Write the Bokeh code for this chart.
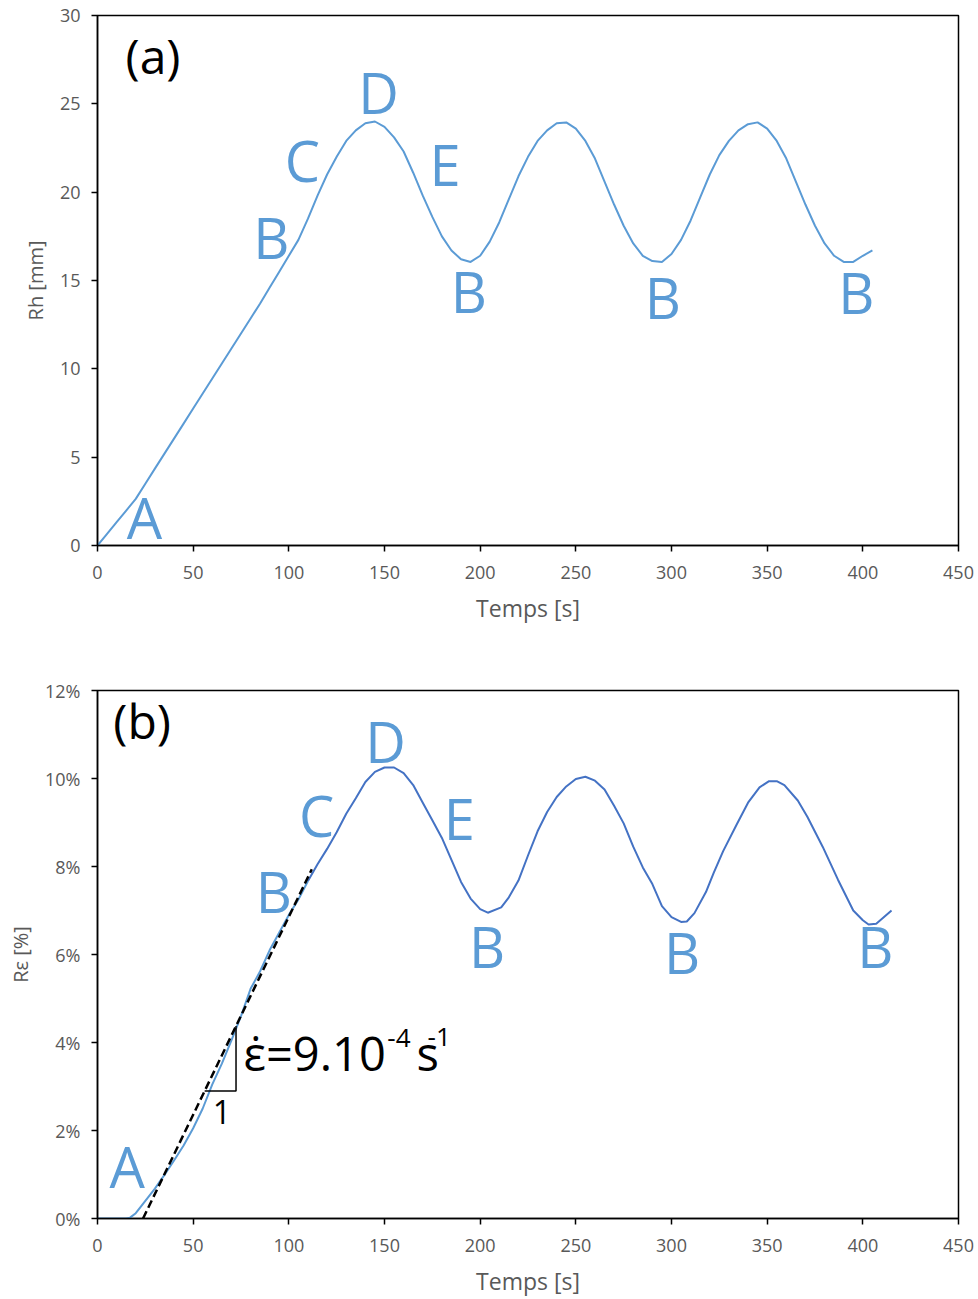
from bokeh.plotting import figure
from bokeh.layouts import column
from bokeh.models import Range1d, PrintfTickFormatter
from bokeh.core.properties import value
from bokeh.embed import file_html
from bokeh.resources import INLINE

# ---------------- data (a) ----------------
time_a = [0, 5, 10, 15, 20, 25, 30, 35, 40, 45, 50, 55, 60, 65, 70, 75, 80, 85, 90, 95,
          100, 105, 110, 115, 120, 125, 130, 135, 140, 145, 150, 155, 160, 165, 170, 175,
          180, 185, 190, 195, 200, 205, 210, 215, 220, 225, 230, 235, 240, 245, 250, 255,
          260, 265, 270, 275, 280, 285, 290, 295, 300, 305, 310, 315, 320, 325, 330, 335,
          340, 345, 350, 355, 360, 365, 370, 375, 380, 385, 390, 395, 400, 405]
rh_mm = [0.0, 0.66, 1.32, 1.98, 2.64, 3.5, 4.35, 5.2, 6.05, 6.9, 7.75, 8.6, 9.45, 10.3,
         11.15, 12.0, 12.85, 13.7, 14.6, 15.5, 16.4, 17.3, 18.5, 19.8, 21.0, 22.0, 22.9,
         23.5, 23.9, 24.0, 23.7, 23.1, 22.3, 21.1, 19.8, 18.6, 17.5, 16.7, 16.2, 16.05,
         16.4, 17.2, 18.3, 19.6, 20.9, 22.0, 22.9, 23.5, 23.9, 23.95, 23.6, 22.9, 21.9,
         20.6, 19.3, 18.1, 17.1, 16.4, 16.1, 16.05, 16.5, 17.3, 18.4, 19.7, 21.0, 22.1,
         22.9, 23.5, 23.85, 23.95, 23.6, 22.9, 21.9, 20.6, 19.3, 18.1, 17.1, 16.4, 16.05,
         16.05, 16.4, 16.7]

# ---------------- data (b) ----------------
time_b1 = [0, 5, 10, 15, 17, 20, 25, 30, 35, 40, 45, 50, 55, 60, 65, 70, 75, 80, 85, 90,
           95, 100, 105, 110]
reps_b1 = [0, 0, 0, 0, 0.02, 0.12, 0.40, 0.68, 0.99, 1.32, 1.66, 2.05, 2.50, 3.05, 3.52,
           4.05, 4.6, 5.22, 5.62, 6.1, 6.5, 6.9, 7.25, 7.67]
time_b2 = [110, 115, 120, 125, 130, 135, 140, 145, 150, 155, 160, 165, 170, 175, 180, 185,
           190, 195, 200, 204, 211, 215, 220, 225, 230, 235, 240, 245, 250, 255, 260, 265,
           270, 275, 280, 285, 290, 295, 300, 305, 308, 312, 318, 322, 327, 334, 340, 346,
           351, 355, 359, 366, 371, 379, 387, 395, 400, 403, 407, 415]
reps_b2 = [7.67, 8.05, 8.4, 8.78, 9.2, 9.55, 9.92, 10.15, 10.25, 10.25, 10.12, 9.85, 9.45,
           9.05, 8.65, 8.15, 7.65, 7.27, 7.03, 6.95, 7.07, 7.3, 7.68, 8.25, 8.8, 9.24, 9.58,
           9.82, 9.99, 10.04, 9.95, 9.75, 9.38, 8.98, 8.45, 7.98, 7.6, 7.1, 6.85, 6.74, 6.75,
           6.94, 7.42, 7.85, 8.35, 8.95, 9.45, 9.8, 9.94, 9.94, 9.85, 9.5, 9.13, 8.45, 7.7,
           7.0, 6.78, 6.68, 6.70, 7.0]

# strain-rate fit line: eps = rate*(t - t0), rate in %/s  (9.10^-4 s^-1)
fit_t0 = 23.8
fit_rate = 0.09
fit_t_end = 112.0
tri_t = [56.0, 72.4]

x_ticks = [0, 50, 100, 150, 200, 250, 300, 350, 400, 450]
y_ticks_a = [0, 5, 10, 15, 20, 25, 30]
y_ticks_b = [0, 2, 4, 6, 8, 10, 12]

# point labels (x, baseline y)
lab_a_txt = ["A", "B", "C", "D", "E", "B", "B", "B"]
lab_a_x = [24.6, 90.8, 107.1, 146.9, 181.6, 194.1, 295.5, 396.6]
lab_a_y = [0.38, 16.23, 20.57, 24.45, 20.38, 13.2, 12.83, 13.11]
lab_b_txt = ["A", "B", "C", "D", "E", "B", "B", "B"]
lab_b_x = [15.5, 92.1, 114.5, 150.5, 189.1, 203.6, 305.5, 406.6]
lab_b_y = [0.70, 6.94, 8.67, 10.37, 8.6, 5.69, 5.57, 5.69]

LIGHT = "#5B9BD5"
DARK = "#4472C4"
GRAY = "#595959"
FONT = "Open Sans"

PX_A = 530 / 30.0   # px per mm in panel (a)
PX_B = 529 / 12.0   # px per % in panel (b)


def lift(ys, fs, pxu):
    # raise text so that its alphabetic baseline lands on ys
    return [y + 0.388 * fs / pxu for y in ys]


def style(p, yticks):
    p.xaxis.ticker = x_ticks
    p.yaxis.ticker = yticks
    for ax in (p.xaxis, p.yaxis):
        ax.axis_line_color = "black"
        ax.axis_line_width = 1.5
        ax.major_tick_line_color = "black"
        ax.major_tick_line_width = 1.5
        ax.major_tick_out = 6
        ax.major_tick_in = 0
        ax.minor_tick_line_color = None
        ax.major_label_text_color = GRAY
        ax.major_label_text_font = FONT
        ax.major_label_text_font_size = "18px"
        ax.axis_label_text_color = GRAY
        ax.axis_label_text_font = FONT
        ax.axis_label_text_font_style = "normal"
    p.xaxis.axis_label_text_font_size = "23px"
    p.yaxis.axis_label_text_font_size = "20px"
    p.xaxis.major_label_standoff = 14
    p.yaxis.major_label_standoff = 11
    p.xaxis.axis_label_standoff = 10
    p.yaxis.axis_label_standoff = 8
    p.xgrid.grid_line_color = None
    p.ygrid.grid_line_color = None
    p.outline_line_color = "black"
    p.outline_line_width = 1.5
    p.background_fill_color = "white"
    p.border_fill_color = "white"


# ---------------- figure (a) ----------------
p1 = figure(width=978, height=640, x_range=Range1d(0, 450), y_range=Range1d(0, 30),
            output_backend="svg", toolbar_location=None,
            min_border_left=97, min_border_right=20, min_border_top=15, min_border_bottom=95,
            x_axis_label="Temps [s]", y_axis_label="Rh [mm]")
style(p1, y_ticks_a)
p1.line(time_a, rh_mm, line_color=LIGHT, line_width=2)
p1.text(x=lab_a_x, y=lift(lab_a_y, 56, PX_A), text=lab_a_txt, text_font=value(FONT),
        text_font_size="56px", text_color=LIGHT, text_align="center", text_baseline="alphabetic")
p1.text(x=[29.0], y=lift([26.7], 48, PX_A), text=["(a)"], text_font=value(FONT),
        text_font_size="48px", text_color="black", text_align="center", text_baseline="alphabetic")

# ---------------- figure (b) ----------------
p2 = figure(width=978, height=659, x_range=Range1d(0, 450), y_range=Range1d(0, 12),
            output_backend="svg", toolbar_location=None,
            min_border_left=97, min_border_right=20, min_border_top=50, min_border_bottom=80,
            x_axis_label="Temps [s]", y_axis_label="Rε [%]")
style(p2, y_ticks_b)
p2.yaxis.formatter = PrintfTickFormatter(format="%d%%")
p2.line(time_b1, reps_b1, line_color=LIGHT, line_width=2)
p2.line(time_b2, reps_b2, line_color=DARK, line_width=2)
fit_x = [fit_t0, fit_t_end]
fit_y = [fit_rate * (t - fit_t0) for t in fit_x]
p2.line(fit_x, fit_y, line_color="black", line_width=2.5, line_dash="8 4")
tri_y0 = fit_rate * (tri_t[0] - fit_t0)
tri_y1 = fit_rate * (tri_t[1] - fit_t0)
p2.line([tri_t[0], tri_t[1], tri_t[1]], [tri_y0, tri_y0, tri_y1], line_color="black", line_width=1.5)
p2.text(x=[(tri_t[0] + tri_t[1]) / 2 + 0.8], y=lift([tri_y0 - 0.75], 32, PX_B), text=["1"],
        text_font=value(FONT), text_font_size="32px", text_color="black",
        text_align="center", text_baseline="alphabetic")
p2.text(x=[76.3], y=lift([3.34], 47, PX_B), text=["\u03b5\u0307=9.10"], text_font=value(FONT),
        text_font_size="47px", text_color="black", text_align="left", text_baseline="alphabetic")
p2.text(x=[151.5], y=lift([3.88], 26, PX_B), text=["-4"], text_font=value(FONT),
        text_font_size="26px", text_color="black", text_align="left", text_baseline="alphabetic")
p2.text(x=[166.7], y=lift([3.34], 47, PX_B), text=["s"], text_font=value(FONT),
        text_font_size="47px", text_color="black", text_align="left", text_baseline="alphabetic")
p2.text(x=[172.5], y=lift([3.9], 26, PX_B), text=["-1"], text_font=value(FONT),
        text_font_size="26px", text_color="black", text_align="left", text_baseline="alphabetic")
p2.text(x=lab_b_x, y=lift(lab_b_y, 56, PX_B), text=lab_b_txt, text_font=value(FONT),
        text_font_size="56px", text_color=LIGHT, text_align="center", text_baseline="alphabetic")
p2.text(x=[23.3], y=lift([10.9], 48, PX_B), text=["(b)"], text_font=value(FONT),
        text_font_size="48px", text_color="black", text_align="center", text_baseline="alphabetic")

layout = column(p1, p2)
open("out.html", "w").write(file_html(layout, INLINE))
